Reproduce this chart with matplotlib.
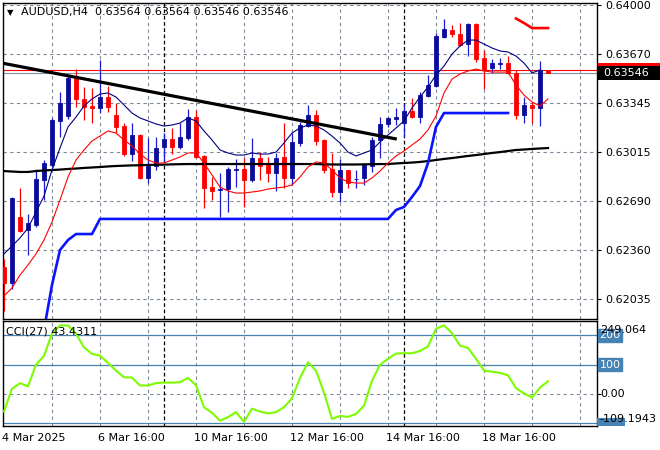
import numpy as np
import matplotlib
matplotlib.use("Agg")
import matplotlib.pyplot as plt
from matplotlib.patches import Rectangle
from matplotlib.transforms import blended_transform_factory as btf

nan = np.nan
# ---------------- data ----------------
opens = [0.62249, 0.62142, 0.62583, 0.62496, 0.62530, 0.62830, 0.62931, 0.63225, 0.63258, 0.63512,
         0.63372, 0.63325, 0.63312, 0.63385, 0.63265, 0.63191, 0.63004, 0.63131, 0.62844, 0.62924,
         0.63051, 0.63104, 0.63051, 0.63111, 0.63251, 0.62991, 0.62783, 0.62763, 0.62770, 0.62897,
         0.62904, 0.62830, 0.62977, 0.62931, 0.62877, 0.62984, 0.62844, 0.63078, 0.63191, 0.63265,
         0.63098, 0.62904, 0.62750, 0.62897, 0.62834, 0.62844, 0.62924, 0.63098, 0.63205, 0.63238,
         0.63211, 0.63291, 0.63251, 0.63392, 0.63459, 0.63786, 0.63833, 0.63806, 0.63739, 0.63873,
         0.63646, 0.63579, 0.63609, 0.63612, 0.63546, 0.63265, 0.63332, 0.63312, 0.63564]
highs = [0.62302, 0.62717, 0.62777, 0.62603, 0.62904, 0.62964, 0.63245, 0.63419, 0.63532, 0.63572,
         0.63452, 0.63445, 0.63632, 0.63459, 0.63345, 0.63211, 0.63211, 0.63138, 0.63111, 0.63118,
         0.63144, 0.63178, 0.63211, 0.63305, 0.63298, 0.62997, 0.62850, 0.62877, 0.62917, 0.62971,
         0.62977, 0.63111, 0.63017, 0.62984, 0.63011, 0.63211, 0.63144, 0.63218, 0.63332, 0.63298,
         0.63104, 0.63011, 0.62971, 0.62897, 0.62897, 0.62944, 0.63118, 0.63251, 0.63251, 0.63312,
         0.63338, 0.63378, 0.63419, 0.63532, 0.63813, 0.63906, 0.63866, 0.63880, 0.63880, 0.63880,
         0.63699, 0.63639, 0.63646, 0.63659, 0.63566, 0.63385, 0.63352, 0.63626, 0.63564]
lows = [0.61955, 0.62102, 0.62483, 0.62329, 0.62516, 0.62697, 0.62917, 0.63118, 0.63238, 0.63318,
        0.63231, 0.63211, 0.63278, 0.63285, 0.63144, 0.62991, 0.62957, 0.62837, 0.62810, 0.62897,
        0.62951, 0.63004, 0.63038, 0.63098, 0.62977, 0.62643, 0.62697, 0.62583, 0.62616, 0.62783,
        0.62650, 0.62817, 0.62830, 0.62817, 0.62757, 0.62777, 0.62797, 0.63058, 0.63185, 0.63064,
        0.62877, 0.62717, 0.62683, 0.62777, 0.62777, 0.62797, 0.62884, 0.62977, 0.63185, 0.63198,
        0.63118, 0.63245, 0.63211, 0.63385, 0.63452, 0.63779, 0.63786, 0.63726, 0.63659, 0.63619,
        0.63439, 0.63546, 0.63572, 0.63539, 0.63238, 0.63211, 0.63211, 0.63191, 0.63546]
closes = [0.62142, 0.62710, 0.62489, 0.62543, 0.62837, 0.62944, 0.63231, 0.63345, 0.63512, 0.63372,
          0.63318, 0.63312, 0.63385, 0.63318, 0.63185, 0.63004, 0.63131, 0.62844, 0.62924, 0.63044,
          0.63104, 0.63051, 0.63118, 0.63251, 0.62984, 0.62777, 0.62757, 0.62770, 0.62904, 0.62904,
          0.62830, 0.62977, 0.62924, 0.62877, 0.62977, 0.62844, 0.63084, 0.63198, 0.63265, 0.63091,
          0.62897, 0.62750, 0.62897, 0.62810, 0.62840, 0.62937, 0.63098, 0.63205, 0.63245, 0.63251,
          0.63291, 0.63251, 0.63398, 0.63465, 0.63793, 0.63840, 0.63806, 0.63733, 0.63873, 0.63639,
          0.63566, 0.63612, 0.63612, 0.63546, 0.63265, 0.63332, 0.63312, 0.63564, 0.63546]

ma_fast = [0.62336, 0.62389, 0.62443, 0.62509, 0.62616, 0.62723, 0.62897, 0.63044, 0.63185, 0.63251,
           0.63325, 0.63372, 0.63405, 0.63412, 0.63385, 0.63332, 0.63278, 0.63245, 0.63225, 0.63205,
           0.63191, 0.63198, 0.63211, 0.63245, 0.63225, 0.63158, 0.63098, 0.63031, 0.63011, 0.62997,
           0.62997, 0.63011, 0.63004, 0.63004, 0.63017, 0.63078, 0.63144, 0.63178, 0.63198, 0.63191,
           0.63165, 0.63124, 0.63078, 0.63017, 0.62991, 0.63011, 0.63031, 0.63084, 0.63131, 0.63178,
           0.63225, 0.63312, 0.63385, 0.63452, 0.63532, 0.63592, 0.63672, 0.63726, 0.63766, 0.63766,
           0.63739, 0.63713, 0.63693, 0.63686, 0.63659, 0.63612, 0.63546, 0.63566, nan]
ma_mid = [0.62055, 0.62108, 0.62195, 0.62262, 0.62336, 0.62429, 0.62550, 0.62697, 0.62850, 0.62964,
          0.63031, 0.63091, 0.63124, 0.63158, 0.63144, 0.63098, 0.63058, 0.63004, 0.62964, 0.62944,
          0.62944, 0.62964, 0.62984, 0.63011, 0.63011, 0.62944, 0.62864, 0.62783, 0.62757, 0.62743,
          0.62743, 0.62750, 0.62757, 0.62770, 0.62777, 0.62783, 0.62797, 0.62850, 0.62917, 0.62951,
          0.62944, 0.62897, 0.62844, 0.62817, 0.62810, 0.62810, 0.62844, 0.62890, 0.62944, 0.62991,
          0.63024, 0.63064, 0.63104, 0.63165, 0.63258, 0.63412, 0.63505, 0.63539, 0.63559, 0.63572,
          0.63559, 0.63552, 0.63552, 0.63552, 0.63465, 0.63398, 0.63352, 0.63325, 0.63372]
ma_slow = [0.62890, 0.62887, 0.62884, 0.62884, 0.62890, 0.62894, 0.62897, 0.62900, 0.62904, 0.62907,
           0.62911, 0.62914, 0.62917, 0.62921, 0.62924, 0.62926, 0.62928, 0.62929, 0.62931, 0.62932,
           0.62933, 0.62935, 0.62936, 0.62937, 0.62937, 0.62937, 0.62937, 0.62937, 0.62937, 0.62937,
           0.62937, 0.62937, 0.62937, 0.62937, 0.62937, 0.62937, 0.62937, 0.62937, 0.62937, 0.62937,
           0.62935, 0.62934, 0.62934, 0.62934, 0.62934, 0.62935, 0.62936, 0.62937, 0.62937, 0.62941,
           0.62944, 0.62947, 0.62951, 0.62957, 0.62964, 0.62971, 0.62977, 0.62984, 0.62991, 0.62997,
           0.63004, 0.63011, 0.63017, 0.63024, 0.63031, 0.63034, 0.63038, 0.63041, 0.63044]
stop_low = [nan, nan, nan, nan, nan, 0.61828, 0.62129, 0.62362, 0.62429, 0.62469,
            0.62469, 0.62469, 0.62570, 0.62570, 0.62570, 0.62570, 0.62570, 0.62570, 0.62570, 0.62570,
            0.62570, 0.62570, 0.62570, 0.62570, 0.62570, 0.62570, 0.62570, 0.62570, 0.62570, 0.62570,
            0.62570, 0.62570, 0.62570, 0.62570, 0.62570, 0.62570, 0.62570, 0.62570, 0.62570, 0.62570,
            0.62570, 0.62570, 0.62570, 0.62570, 0.62570, 0.62570, 0.62570, 0.62570, 0.62570, 0.62630,
            0.62650, 0.62717, 0.62790, 0.62944, 0.63185, 0.63278, 0.63278, 0.63278, 0.63278, 0.63278,
            0.63278, 0.63278, 0.63278, 0.63278, nan, nan, nan, nan, nan]
stop_high = [nan] * 64 + [0.63910, 0.63880, 0.63846, 0.63846, 0.63846]

cci = [-60, 18, 37, 26, 100, 130, 206, 234, 234, 206,
       159, 137, 131, 106, 80, 57, 56, 29, 29, 37,
       39, 39, 40, 55, 30, -45, -64, -91, -79, -62,
       -95, -50, -60, -66, -62, -45, -15, 55, 108, 80,
       5, -85, -75, -78, -68, -40, 45, 100, 120, 138,
       139, 139, 147, 162, 223, 234, 208, 165, 157, 120,
       80, 76, 72, 64, 20, 2, -12, 22, 43.4311]

trend_x = [-0.25, 49.1]
trend_y = [0.63612, 0.63104]

price_ticks = [0.64000, 0.63670, 0.63345, 0.63015, 0.62690, 0.62360, 0.62035]
price_labels = ["0.64000", "0.63670", "0.63345", "0.63015", "0.62690", "0.62360", "0.62035"]
time_pos = [0, 12, 24, 36, 48, 60]
time_labels = ["4 Mar 2025", "6 Mar 16:00", "10 Mar 16:00", "12 Mar 16:00", "14 Mar 16:00", "18 Mar 16:00"]
week_sep = [20, 50]
cci_levels = [200, 100]
cci_low_level = -100
cci_max, cci_min = 249.064, -109.1943
bid, ask = 0.63546, 0.63569
header = "AUDUSD,H4  0.63564 0.63564 0.63546 0.63546"

# ---------------- figure ----------------
W, H = 660, 450
fig = plt.figure(figsize=(6.6, 4.5), dpi=100)
fig.patch.set_facecolor("white")
plt.rcParams["font.family"] = ["DejaVu Sans"]

def fx(px):
    return px / W

def fy(py):
    return 1 - py / H

L, R = 2.5, 596.5
ax = fig.add_axes([fx(L), fy(319), fx(R - L), (319 - 2.5) / H])
ax2 = fig.add_axes([fx(L), fy(426), fx(R - L), (426 - 321) / H])

n = len(closes)
x = np.arange(n)
xmin, xmax = (L - 4) / 8, (R - 4) / 8
grid_c = "#7f8a96"
grid_ls = (0, (3, 3))
steel = "#4682b4"

for a in (ax, ax2):
    a.set_xlim(xmin, xmax)
    for s in a.spines.values():
        s.set_color("black")
        s.set_linewidth(1.0)
    a.set_xticks([])
    for gx in range(6, 75, 6):
        a.axvline(gx, color=grid_c, lw=0.8, ls=grid_ls, zorder=0)
    for sx in week_sep:
        a.axvline(sx, color="black", lw=0.9, ls=(0, (3, 2)), zorder=1)

# main panel
ax.set_ylim(0.61901, 0.64017)
for p in price_ticks:
    ax.axhline(p, color=grid_c, lw=0.8, ls=grid_ls, zorder=0)
ax.yaxis.tick_right()
ax.set_yticks(price_ticks)
ax.set_yticklabels(price_labels)
ax.tick_params(axis="y", direction="out", length=3, width=0.8, pad=3, labelsize=8)

ax.axhline(ask, color="#ff0000", lw=0.8, zorder=2)
ax.axhline(bid, color="#8090a0", lw=0.8, zorder=2)

o = np.array(opens); c = np.array(closes); h = np.array(highs); l = np.array(lows)
up = c >= o
bull_body, bull_wick, bear = "#0c0c9c", "#1a1ad0", "#ff0000"
ax.vlines(x[up], l[up], h[up], color=bull_wick, lw=0.9, zorder=3)
ax.vlines(x[~up], l[~up], h[~up], color=bear, lw=0.9, zorder=3)
ax.bar(x[up], (c - o)[up], bottom=o[up], width=0.62, color=bull_body,
       edgecolor=bull_body, linewidth=0.6, zorder=3)
ax.bar(x[~up], (o - c)[~up], bottom=c[~up], width=0.62, color=bear,
       edgecolor=bear, linewidth=0.6, zorder=3)

ax.plot(x, ma_slow, color="black", lw=1.6, zorder=4)
ax.plot(x, ma_mid, color="#ff0000", lw=0.8, zorder=4)
ax.plot(x, ma_fast, color="#000080", lw=0.8, zorder=4)
ax.plot(x, stop_low, color="#0a14ff", lw=1.9, zorder=4)
ax.plot(x, stop_high, color="#ff0000", lw=1.9, zorder=4)
ax.plot(trend_x, trend_y, color="black", lw=2.3, zorder=5, solid_capstyle="butt")

# header
fig.text(fx(7), fy(12.5), "\u25bc", fontsize=6, va="center", ha="left")
fig.text(fx(21), fy(12.5), header, fontsize=8, va="center", ha="left")

# price boxes (ask box is mostly hidden behind the bid box)
fig.canvas.draw()
inv = fig.transFigure.inverted()
def py_of(a, val):
    return H * (1 - inv.transform(a.transData.transform((0, val)))[1])

ya = py_of(ax, ask); yb = py_of(ax, bid)
fig.add_artist(Rectangle((fx(598), fy(ya + 7)), fx(62), 14 / H, facecolor="#ff0000",
                         edgecolor="none", zorder=5))
fig.add_artist(Rectangle((fx(598), fy(yb + 7.5)), fx(62), 14 / H, facecolor="black",
                         edgecolor="none", zorder=7))
fig.text(fx(603), fy(yb), "%.5f" % bid, color="white", fontsize=8, va="center", zorder=8)

# CCI panel
ax2.set_ylim(cci_min, cci_max)
ax2.axhline(0, color=grid_c, lw=0.8, ls=grid_ls, zorder=0)
for lv in cci_levels + [cci_low_level]:
    ax2.axhline(lv, color=steel, lw=0.9, zorder=1)
ax2.plot(x, cci, color="#7cfc00", lw=1.5, zorder=4)
ax2.yaxis.tick_right()
ax2.set_yticks([200, 100, 0, -100])
ax2.set_yticklabels([])
ax2.tick_params(axis="y", direction="out", length=3, width=0.8)

for lv in cci_levels:
    ax2.annotate(str(lv), xy=(1, lv), xycoords=("axes fraction", "data"),
                 xytext=(2.2, 0), textcoords="offset points", va="center", ha="left",
                 fontsize=8, color="white",
                 bbox=dict(boxstyle="square,pad=0.12", fc=steel, ec=steel))
ax2.annotate("0.00", xy=(1, 0), xycoords=("axes fraction", "data"),
             xytext=(3, 0), textcoords="offset points", va="center", ha="left", fontsize=8)
# -100 level box, clipped at the window bottom and covered by the minimum label
y100 = py_of(ax2, cci_low_level)
fig.add_artist(Rectangle((fx(597), fy(426)), fx(28), (426 - (y100 - 5)) / H,
                         facecolor=steel, edgecolor="none", zorder=5))
fig.text(fx(600), fy(330), "%.3f" % cci_max, fontsize=8, va="center", ha="left", zorder=9)
fig.text(fx(599), fy(419), "%.4f" % cci_min, fontsize=8, va="center", ha="left", zorder=9)
fig.text(fx(6), fy(331.5), "CCI(27) %.4f" % cci[-1], fontsize=8, va="center", ha="left")

# time labels
tr = btf(ax2.transData, fig.transFigure)
for tp, tl in zip(time_pos, time_labels):
    ax2.text(tp - 0.2, fy(438), tl, transform=tr, fontsize=8, va="center", ha="left",
             clip_on=False)

fig.savefig("out.png", dpi=100, facecolor="white")
